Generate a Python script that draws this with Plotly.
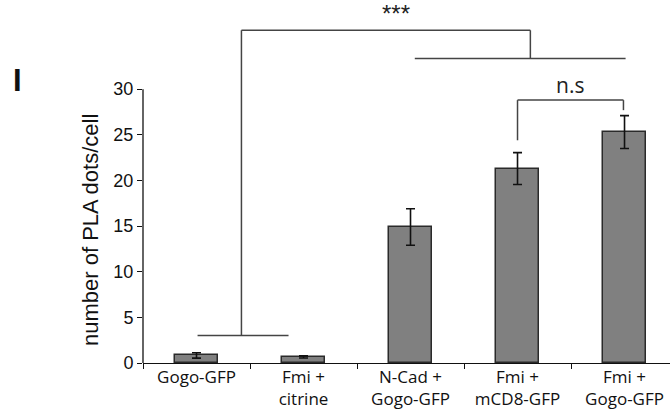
import plotly.graph_objects as go

categories = ["Gogo-GFP", "Fmi +<br>citrine", "N-Cad +<br>Gogo-GFP", "Fmi +<br>mCD8-GFP", "Fmi +<br>Gogo-GFP"]
means = [0.83, 0.66, 14.9, 21.3, 25.3]
errors = [0.3, 0.12, 2.0, 1.75, 1.8]
y_ticks = [0, 5, 10, 15, 20, 25, 30]

# significance brackets (category index positions, value heights)
low_group = (0.01, 0.86, 3.0)        # x0, x1, y of bar over the two controls
high_group = (2.04, 4.01, 33.35)     # x0, x1, y of bar over the three pairs
top_link = (0.42, 3.12, 36.45)       # x0, x1, y of the top link
ns_pair = (3.0, 3.99, 28.8, 24.4, 27.7)  # x0, x1, y top, y left end, y right end

LINE = dict(color="#444444", width=1.5)
FONT_LAB = "Open Sans, Noto Sans, Arial, sans-serif"
FONT_NUM = "Liberation Sans Narrow, Arial Narrow, Liberation Sans, Arial, sans-serif"

fig = go.Figure()
fig.add_trace(go.Bar(
    x=categories, y=means, width=0.40,
    marker=dict(color="#808080", line=dict(color="#2a2a2a", width=1.5)),
    error_y=dict(type="data", array=errors, visible=True, color="#111111", thickness=1.6, width=4.5),
    showlegend=False,
))

shapes = []
# y axis line from 0 to 30 only
shapes.append(dict(type="line", xref="paper", yref="y", x0=0, x1=0, y0=y_ticks[0], y1=y_ticks[-1],
                   line=dict(color="#111111", width=1.3)))
# brackets
shapes.append(dict(type="line", xref="x", yref="y", x0=low_group[0], x1=low_group[1], y0=low_group[2], y1=low_group[2], line=LINE))
shapes.append(dict(type="line", xref="x", yref="y", x0=top_link[0], x1=top_link[0], y0=low_group[2], y1=top_link[2], line=LINE))
shapes.append(dict(type="line", xref="x", yref="y", x0=top_link[0], x1=top_link[1], y0=top_link[2], y1=top_link[2], line=LINE))
shapes.append(dict(type="line", xref="x", yref="y", x0=top_link[1], x1=top_link[1], y0=top_link[2], y1=high_group[2], line=LINE))
shapes.append(dict(type="line", xref="x", yref="y", x0=high_group[0], x1=high_group[1], y0=high_group[2], y1=high_group[2], line=LINE))
shapes.append(dict(type="line", xref="x", yref="y", x0=ns_pair[0], x1=ns_pair[0], y0=ns_pair[3], y1=ns_pair[2], line=LINE))
shapes.append(dict(type="line", xref="x", yref="y", x0=ns_pair[0], x1=ns_pair[1], y0=ns_pair[2], y1=ns_pair[2], line=LINE))
shapes.append(dict(type="line", xref="x", yref="y", x0=ns_pair[1], x1=ns_pair[1], y0=ns_pair[2], y1=ns_pair[4], line=LINE))

annotations = [
    dict(text="***", xref="x", yref="y", x=1.86, y=top_link[2] + 0.1, xanchor="center", yanchor="bottom",
         showarrow=False, font=dict(family="Arial, Liberation Sans, sans-serif", size=24, color="#222222")),
    dict(text="n.s", xref="x", yref="y", x=3.49, y=ns_pair[2] - 0.15, xanchor="center", yanchor="bottom",
         showarrow=False, font=dict(family=FONT_LAB, size=21, color="#222222")),
    dict(text="number of PLA dots/cell", xref="paper", yref="y", x=-0.10, y=14.6, textangle=-90,
         xanchor="center", yanchor="middle", showarrow=False,
         font=dict(family="Liberation Sans, Arial, sans-serif", size=22, color="#111111")),
    dict(text="<b>I</b>", xref="paper", yref="y", x=-0.238, y=30.9, xanchor="center", yanchor="middle",
         showarrow=False, font=dict(family="Liberation Sans, Arial, sans-serif", size=31, color="#111111")),
]

fig.update_layout(
    width=670, height=412,
    margin=dict(l=143, r=0, t=3, b=49),
    plot_bgcolor="white", paper_bgcolor="white",
    shapes=shapes, annotations=annotations,
    bargap=0,
    xaxis=dict(type="category", range=[-0.5, 4.425], showline=True, linecolor="#111111", linewidth=1.3,
               ticks="outside", tickson="boundaries", ticklen=5, tickcolor="#111111", tickwidth=1.3,
               showgrid=False, zeroline=False, automargin=False, ticklabelstandoff=-2,
               tickfont=dict(family=FONT_LAB, size=17, color="#111111")),
    yaxis=dict(range=[0, 39.44], tickvals=y_ticks, ticks="outside", ticklen=5, tickcolor="#111111",
               tickwidth=1.3, showline=False, showgrid=False, zeroline=False, automargin=False,
               tickfont=dict(family=FONT_NUM, size=18, color="#111111")),
)

fig.write_html("out.html", config={"displayModeBar": False},
               post_script="document.body.style.margin='0';document.body.style.overflow='hidden';")
